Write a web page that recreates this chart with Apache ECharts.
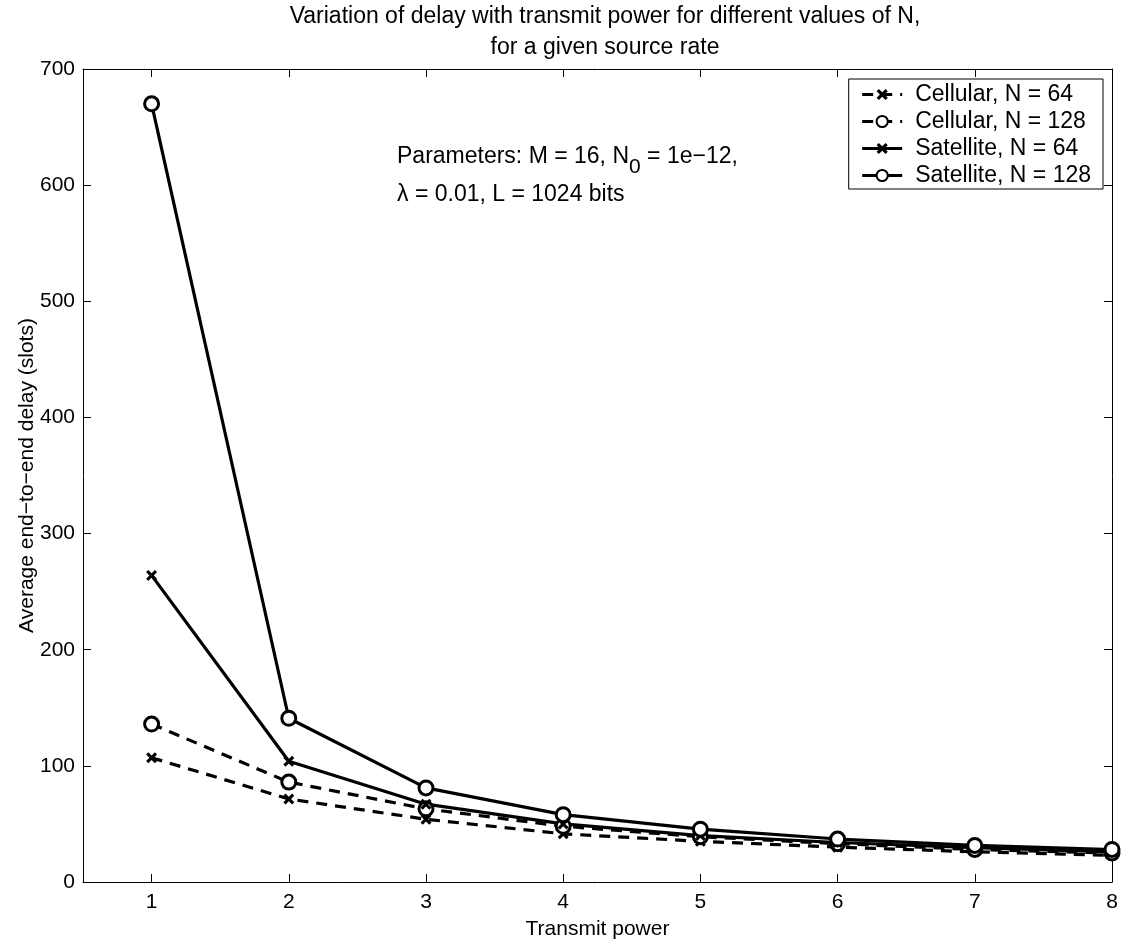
<!DOCTYPE html>
<html><head><meta charset="utf-8">
<script src="https://cdn.jsdelivr.net/npm/echarts@6/dist/echarts.min.js"></script>
<style>html,body{margin:0;padding:0;background:#fff}#c{width:1121px;height:946px}</style>
</head><body><div id="c"></div>
<script>
const xValues = [1, 2, 3, 4, 5, 6, 7, 8];
const xTicks = [1, 2, 3, 4, 5, 6, 7, 8];
const cellular64 = [107, 71.5, 54, 41.5, 35, 30, 26, 23];
const cellular128 = [136, 86, 63, 48, 39, 33, 28, 25];
const satellite64 = [264, 104, 67, 50, 40, 34, 29.5, 26];
const satellite128 = [670, 141, 81, 58, 45.5, 37, 31.5, 28];
const seriesNames = ['Cellular, N = 64', 'Cellular, N = 128', 'Satellite, N = 64', 'Satellite, N = 128'];
const titleLines = ['Variation of delay with transmit power for different values of N,', 'for a given source rate'];

const FONT = 'Liberation Sans, Arial, sans-serif';
const XMARK = 'path://M0,2L2,0L5,3L8,0L10,2L7,5L10,8L8,10L5,7L2,10L0,8L3,5Z';
function pts(arr){ return xValues.map((x,i)=>[x, arr[i]]); }
function mk(name, data, dashed, cross){
  return {
    name, type:'line', data: pts(data),
    symbol: cross ? XMARK : 'circle',
    symbolSize: cross ? 11 : 14,
    showAllSymbol: true,
    lineStyle: {color:'#000', width:3.2, type: dashed ? [11,8] : 'solid'},
    itemStyle: cross ? {color:'#000'} : {color:'#fff', borderColor:'#000', borderWidth:3},
    emphasis:{disabled:true}, animation:false, z: 3
  };
}
const chart = echarts.init(document.getElementById('c'), null, {renderer:'canvas'});
chart.setOption({
  backgroundColor:'#fff',
  animation:false,
  title:{text: titleLines.join('\n'), left: 600, textAlign:'center', top: -4,
    textStyle:{fontFamily:FONT, fontSize:23, fontWeight:'normal', color:'#000', lineHeight:31}},
  grid:{left:83, right:9, top:69, bottom:64},
  legend:{
    orient:'vertical', right:18, top:79, data: seriesNames,
    backgroundColor:'#fff', borderColor:'#000', borderWidth:1, padding:[4,12,2,12],
    itemWidth:40, itemHeight:14, itemGap:4,
    lineStyle:{width:3},
    textStyle:{fontFamily:FONT, fontSize:23, color:'#000', padding:[0,0,0,8]}
  },
  xAxis:[{
    type:'value', min:0.5, max:8, position:'bottom',
    name:'Transmit power', nameLocation:'middle', nameGap:37, nameMoveOverlap:false,
    nameTextStyle:{fontFamily:FONT, fontSize:21, color:'#000'},
    axisLine:{show:true, onZero:false, lineStyle:{color:'#000', width:1}},
    axisTick:{show:true, inside:true, length:8, customValues:xTicks, lineStyle:{color:'#000'}},
    axisLabel:{customValues:xTicks, fontFamily:FONT, fontSize:21, color:'#000', margin:10},
    splitLine:{show:false}
  },{
    type:'value', min:0.5, max:8, position:'top',
    axisLine:{show:true, onZero:false, lineStyle:{color:'#000', width:1}},
    axisTick:{show:true, inside:true, length:8, customValues:xTicks, lineStyle:{color:'#000'}},
    axisLabel:{show:false}, splitLine:{show:false}
  }],
  yAxis:[{
    type:'value', min:0, max:700, interval:100, position:'left',
    name:'Average end\u2212to\u2212end delay (slots)', nameLocation:'middle', nameGap:45, nameMoveOverlap:false,
    nameTextStyle:{fontFamily:FONT, fontSize:21, color:'#000'},
    axisLine:{show:true, onZero:false, lineStyle:{color:'#000', width:1}},
    axisTick:{show:true, inside:true, length:8, lineStyle:{color:'#000'}},
    axisLabel:{fontFamily:FONT, fontSize:21, color:'#000', margin:8},
    splitLine:{show:false}
  },{
    type:'value', min:0, max:700, interval:100, position:'right',
    axisLine:{show:true, onZero:false, lineStyle:{color:'#000', width:1}},
    axisTick:{show:true, inside:true, length:8, lineStyle:{color:'#000'}},
    axisLabel:{show:false}, splitLine:{show:false}
  }],
  graphic:[{
    type:'text', left:397, top:145,
    style:{text:'Parameters: M = 16, N{sub|0} = 1e\u221212,', fontFamily:FONT, fontSize:23, fill:'#000',
      rich:{sub:{fontFamily:FONT, fontSize:21, fill:'#000', padding:[22,0,0,0]}}}
  },{
    type:'text', left:397, top:183,
    style:{text:'\u03bb = 0.01, L = 1024 bits', fontFamily:FONT, fontSize:23, fill:'#000'}
  }],
  series:[
    mk(seriesNames[0], cellular64, true, true),
    mk(seriesNames[1], cellular128, true, false),
    mk(seriesNames[2], satellite64, false, true),
    mk(seriesNames[3], satellite128, false, false)
  ]
});
</script></body></html>
